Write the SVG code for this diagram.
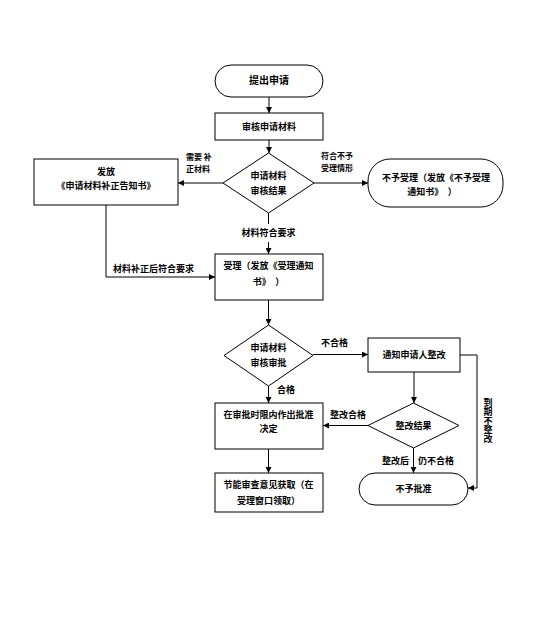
<svg xmlns="http://www.w3.org/2000/svg" width="554" height="623" viewBox="0 0 554 623">
<style>
.n{fill:#fff;stroke:#000;stroke-width:1}
.t{font-family:"Noto Sans CJK SC","Noto Sans",sans-serif;font-size:9px;font-weight:bold;fill:#000}
.s{font-size:8px}
.c{text-anchor:middle}
.l{fill:none;stroke:#000;stroke-width:1}
</style>
<defs>
<marker id="a" viewBox="0 0 10 10" refX="10" refY="5" markerWidth="6" markerHeight="6" markerUnits="userSpaceOnUse" orient="auto">
<path d="M0,0L10,5L0,10z" fill="#000"/>
</marker>
</defs>
<rect width="554" height="623" fill="#fff"/>
<g id="connectors">
<path class="l" d="M269,97V113" marker-end="url(#a)"/>
<path class="l" d="M269,140V153" marker-end="url(#a)"/>
<path class="l" d="M223,183H178" marker-end="url(#a)"/>
<path class="l" d="M314,183H368" marker-end="url(#a)"/>
<path class="l" d="M268.5,213V224"/>
<path class="l" d="M268.5,242V254" marker-end="url(#a)"/>
<path class="l" d="M106,205V277H215" marker-end="url(#a)"/>
<path class="l" d="M268.5,300V325" marker-end="url(#a)"/>
<path class="l" d="M313,354.5H368" marker-end="url(#a)"/>
<path class="l" d="M460,355H477V488H468" marker-end="url(#a)"/>
<path class="l" d="M414,372V403" marker-end="url(#a)"/>
<path class="l" d="M368,425.5H323" marker-end="url(#a)"/>
<path class="l" d="M413.5,448V473" marker-end="url(#a)"/>
<path class="l" d="M268.5,386V403" marker-end="url(#a)"/>
<path class="l" d="M268.5,449V473" marker-end="url(#a)"/>
<text class="t s" x="186" y="160">需要 补<tspan x="186" dy="11.8">正材料</tspan></text>
<text class="t s" x="321" y="159">符合不予<tspan x="321" dy="11.8">受理情形</tspan></text>
<text class="t c" x="268.5" y="236">材料符合要求</text>
<text class="t" x="113" y="272">材料补正后符合要求</text>
<text class="t" x="321" y="346">不合格</text>
<text class="t" x="488" y="398" writing-mode="tb">到期不整改</text>
<text class="t c" x="348" y="418">整改合格</text>
<text class="t" x="409" y="464" text-anchor="end">整改后</text>
<text class="t" x="418" y="464">仍不合格</text>
<text class="t" x="277" y="393">合格</text>
</g>
<g id="start">
<rect class="n" x="215" y="65" width="108" height="32" rx="16"/>
<text class="t c" x="269" y="84" style="font-size:10px">提出申请</text>
</g>
<g id="review">
<rect class="n" x="215" y="113" width="108" height="27"/>
<text class="t c" x="269" y="130">审核申请材料</text>
</g>
<g id="decision1">
<polygon class="n" points="268.5,153 314,183 268.5,213 223,183"/>
<text class="t c" x="268.5" y="179">申请材料</text>
<text class="t c" x="268.5" y="194">审核结果</text>
</g>
<g id="supplement">
<rect class="n" x="34" y="159" width="144" height="46"/>
<text class="t c" x="106" y="175">发放</text>
<text class="t c" x="106" y="189">《申请材料补正告知书》</text>
</g>
<g id="reject1">
<rect class="n" x="368" y="159" width="135" height="48" rx="22"/>
<text class="t c" x="436" y="181">不予受理（发放《不予受理</text>
<text class="t c" x="432" y="195">通知书》　）</text>
</g>
<g id="accept">
<rect class="n" x="215" y="254" width="108" height="46"/>
<text class="t c" x="268.5" y="269">受理（发放《受理通知</text>
<text class="t c" x="268.5" y="285">书》　）</text>
</g>
<g id="decision2">
<polygon class="n" points="268.5,325 313,355.5 268.5,386 224,355.5"/>
<text class="t c" x="268.5" y="351">申请材料</text>
<text class="t c" x="268.5" y="366">审核审批</text>
</g>
<g id="notify">
<rect class="n" x="368" y="338" width="92" height="34"/>
<text class="t c" x="414" y="358">通知申请人整改</text>
</g>
<g id="decision3">
<polygon class="n" points="413.5,403 459,425.5 413.5,448 368,425.5"/>
<text class="t c" x="413.5" y="429">整改结果</text>
</g>
<g id="reject2">
<rect class="n" x="359" y="473" width="109" height="32" rx="16"/>
<text class="t c" x="413.5" y="492">不予批准</text>
</g>
<g id="approve">
<rect class="n" x="215" y="403" width="108" height="46"/>
<text class="t c" x="268.5" y="418">在审批时限内作出批准</text>
<text class="t c" x="268.5" y="432">决定</text>
</g>
<g id="obtain">
<rect class="n" x="215" y="473" width="108" height="39"/>
<text class="t c" x="268.5" y="488">节能审查意见获取（在</text>
<text class="t c" x="268.5" y="504">受理窗口领取）</text>
</g>
</svg>
